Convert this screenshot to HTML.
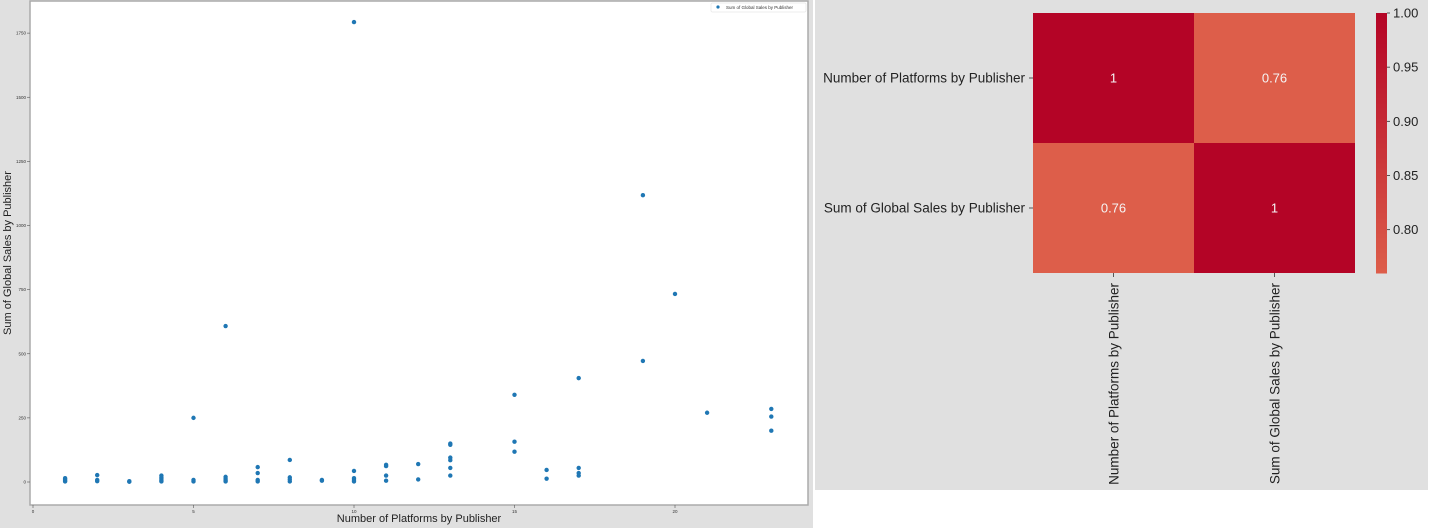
<!DOCTYPE html>
<html><head><meta charset="utf-8"><style>
body{margin:0;width:1456px;height:528px;background:#fff;overflow:hidden;font-family:"Liberation Sans","DejaVu Sans",sans-serif}
svg{display:block}
</style></head><body>
<svg id="root" width="1456" height="528" xmlns="http://www.w3.org/2000/svg">
<rect x="0" y="0" width="813" height="528" fill="#e0e0e0"/>
<rect x="815" y="0" width="613" height="490" fill="#e0e0e0"/>
<rect x="30" y="1" width="778" height="504" fill="#fff" stroke="#aaa" stroke-width="1.5"/>
<g id="scatter"></g>
<g id="xt"></g>
<g id="yt"></g>
<text x="419" y="522" font-size="11" text-anchor="middle" fill="#222">Number of Platforms by Publisher</text>
<text transform="translate(11,253) rotate(-90)" font-size="11" text-anchor="middle" fill="#222">Sum of Global Sales by Publisher</text>
<g>
<rect x="711" y="3" width="95" height="9" fill="#fff" stroke="#ddd" stroke-width="0.5" rx="1"/>
<circle cx="718" cy="7" r="1.6" fill="#1f77b4"/>
<text x="726" y="9" font-size="4.5" fill="#333">Sum of Global Sales by Publisher</text>
</g>
<g id="heat"></g>
<g id="cbar"></g>
</svg>
<script>
const NS="http://www.w3.org/2000/svg";
const platforms=[1,1,1,1,2,2,2,3,3,4,4,4,4,4,5,5,5,6,6,6,6,6,7,7,7,7,8,8,8,8,9,9,10,10,10,10,10,11,11,11,11,12,12,13,13,13,13,13,13,15,15,15,16,16,17,17,17,17,19,19,20,21,23,23,23];
const sales=[2,5,10,15,27,8,3,1,3,25,18,12,6,2,250,8,2,608,20,12,6,2,58,35,8,2,86,18,10,2,8,5,1793,43,15,8,2,62,67,25,5,70,10,150,145,95,85,55,25,340,157,118,47,13,405,55,35,25,1118,472,733,270,285,255,200];
const xTicks=[0,5,10,15,20];
const yTicks=[0,250,500,750,1000,1250,1500,1750];
const heatRows=["Number of Platforms by Publisher","Sum of Global Sales by Publisher"];
const heatVals=[[1,0.76],[0.76,1]];
const cbTicks=[0.80,0.85,0.90,0.95,1.00];
const sx=v=>33+v*32.1, sy=v=>482-v*0.2565;
function el(t,a,p){const e=document.createElementNS(NS,t);for(const k in a)e.setAttribute(k,a[k]);p.appendChild(e);return e;}
const sc=document.getElementById('scatter');
platforms.forEach((p,i)=>{const c=el('circle',{cx:sx(p),cy:sy(sales[i]),r:2.2,fill:'#1f77b4'},sc);

});
const xt=document.getElementById('xt');
xTicks.forEach(t=>{el('line',{x1:sx(t),x2:sx(t),y1:505,y2:508,stroke:'#555','stroke-width':0.6},xt);
const tx=el('text',{x:sx(t),y:513,'font-size':4.5,'text-anchor':'middle',fill:'#333'},xt);tx.textContent=t;

});
const yt=document.getElementById('yt');
yTicks.forEach(t=>{el('line',{x1:27,x2:30,y1:sy(t),y2:sy(t),stroke:'#555','stroke-width':0.6},yt);
const tx=el('text',{x:26,y:sy(t)+1.5,'font-size':4.5,'text-anchor':'end',fill:'#333'},yt);tx.textContent=t;

});
const vmin=0.76,vmax=1.0;
function col(v){const t=Math.max(0,Math.min(1,(v-vmin)/(vmax-vmin)));const a=[221,94,74],b=[180,4,38];
return `rgb(${a.map((x,i)=>Math.round(x+(b[i]-x)*t)).join(',')})`;}
const h=document.getElementById('heat');
const hx=1033,hy=13,cw=161,ch=130;
heatVals.forEach((row,r)=>row.forEach((v,c)=>{
const rc=el('rect',{x:hx+c*cw,y:hy+r*ch,width:cw,height:ch,fill:col(v)},h);


const t=el('text',{x:hx+c*cw+cw/2,y:hy+r*ch+ch/2+4.5,'font-size':13,'text-anchor':'middle',fill:'#f5f5f5'},h);t.textContent=(v===1?'1':v.toFixed(2));

}));
heatRows.forEach((n,i)=>{
el('line',{x1:hx-4,x2:hx,y1:hy+i*ch+ch/2,y2:hy+i*ch+ch/2,stroke:'#333','stroke-width':0.8},h);
const t=el('text',{x:hx-8,y:hy+i*ch+ch/2+4.5,'font-size':13.5,'text-anchor':'end',fill:'#222'},h);t.textContent=n;


const cx=hx+i*cw+cw/2;
el('line',{x1:cx,x2:cx,y1:273,y2:277,stroke:'#333','stroke-width':0.8},h);
const t2=el('text',{transform:`translate(${cx+5},283) rotate(-90)`,'font-size':13.5,'text-anchor':'end',fill:'#222'},h);t2.textContent=n;

});
const cb=document.getElementById('cbar');
const cy0=13,cy1=273,cbx=1376,cbw=11;
const cyv=v=>cy1-(v-vmin)/(vmax-vmin)*(cy1-cy0);
for(let i=0;i<52;i++){const v0=vmin+(vmax-vmin)*i/52,v1=vmin+(vmax-vmin)*(i+1)/52;
el('rect',{x:cbx,y:cyv(v1),width:cbw,height:cyv(v0)-cyv(v1)+0.5,fill:col((v0+v1)/2)},cb);}
cbTicks.forEach(t=>{el('line',{x1:cbx+cbw,x2:cbx+cbw+3,y1:cyv(t),y2:cyv(t),stroke:'#333','stroke-width':0.8},cb);
const tx=el('text',{x:cbx+cbw+6,y:cyv(t)+4.5,'font-size':13,fill:'#222'},cb);tx.textContent=t.toFixed(2);

});
</script>
</body></html>
